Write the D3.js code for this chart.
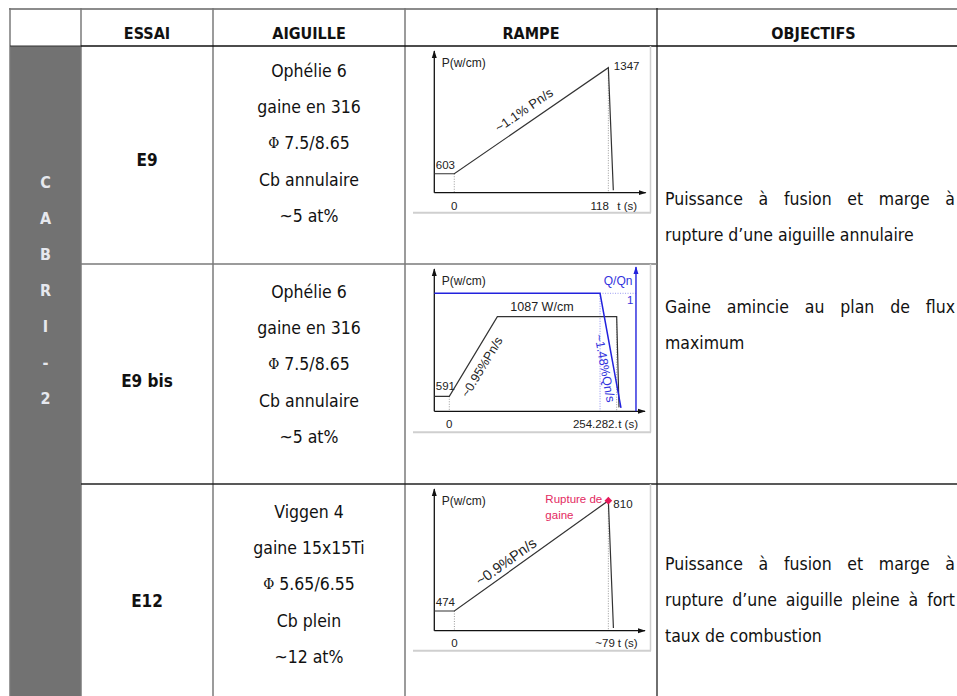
<!DOCTYPE html>
<html><head><meta charset="utf-8">
<script src="https://cdn.jsdelivr.net/npm/d3@7"></script>
<style>body{margin:0;background:#fff;overflow:hidden}svg{display:block}</style>
</head><body>
<script>
// ===== DATA =====
const enTetes = ["ESSAI", "AIGUILLE", "RAMPE", "OBJECTIFS"];
const campagne = ["C", "A", "B", "R", "I", "-", "2"];
const essais = ["E9", "E9 bis", "E12"];
const aiguilles = [
  ["Ophélie 6", "gaine en 316", "Φ 7.5/8.65", "Cb annulaire", "~5 at%"],
  ["Ophélie 6", "gaine en 316", "Φ 7.5/8.65", "Cb annulaire", "~5 at%"],
  ["Viggen 4", "gaine 15x15Ti", "Φ 5.65/6.55", "Cb plein", "~12 at%"]
];
const objectifsHaut = ["Puissance à fusion et marge à", "rupture d’une aiguille annulaire", "", "Gaine amincie au plan de flux", "maximum"];
const objectifsHautJustifie = [true, false, false, true, false];
const objectifsBas = ["Puissance à fusion et marge à", "rupture d’une aiguille pleine à fort", "taux de combustion"];
const objectifsBasJustifie = [true, true, false];

// Rampe E9
const rampe1Temps = [-15.3, 0, 118, 121.8];
const rampe1Puissance = [603, 603, 1347, 487];
const rampe1TDomaine = [-15.3, 146.6];
const rampe1PDomaine = [470, 1464];
const rampe1Pente = "~1.1% Pn/s";
const rampe1TickLabels = ["0", "118"];

// Rampe E9 bis
const rampe2Temps = [-22.8, 0, 73, 254.282, 257.8];
const rampe2Puissance = [591, 591, 1087, 1087, 522];
const rampe2DebitTemps = [-22.8, 229, 260.8];
const rampe2Debit = [1, 1, 0.03];
const rampe2TDomaine = [-22.8, 297.3];
const rampe2PDomaine = [497.5, 1384];
const rampe2QDomaine = [0, 1.223];
const rampe2TAxeQ = 283.6;
const rampe2Pente = "~0.95%Pn/s";
const rampe2PenteDebit = "~1.48%Qn/s";
const rampe2Plateau = "1087 W/cm";
const rampe2TickLabels = ["0", "254.282."];

// Rampe E12
const rampe3Temps = [-10.3, 0, 79, 81.6];
const rampe3Puissance = [474, 474, 810, 422];
const rampe3TDomaine = [-10.3, 97.8];
const rampe3PDomaine = [414, 845.6];
const rampe3Pente = "~0.9%Pn/s";
const rampe3TickLabels = ["0", "~79"];
const rampe3Rupture = ["Rupture de", "gaine"];

// ===== DRAW =====
const W = 957, H = 696;
const FONT = "'DejaVu Sans Condensed','DejaVu Sans',sans-serif";
const CFONT = "'Liberation Sans',Arial,sans-serif";
const svg = d3.select("body").append("svg").attr("width", W).attr("height", H)
  .style("font-family", FONT).style("font-stretch", "condensed");
const defs = svg.append("defs");
function marker(id, color) {
  defs.append("marker").attr("id", id).attr("viewBox", "0 0 10 10")
    .attr("refX", 9).attr("refY", 5).attr("markerWidth", 8).attr("markerHeight", 8)
    .attr("markerUnits", "userSpaceOnUse").attr("orient", "auto")
    .append("path").attr("d", "M0,1.8L10,5L0,8.2Z").attr("fill", color);
}
marker("arrK", "#111");
marker("arrB", "#2222dd");

const colX = [10, 81, 213, 405, 657, 1000];
const rowY = [9, 46, 264, 484, 720];

// gray campaign column
svg.append("rect").attr("x", colX[0]).attr("y", rowY[1]).attr("width", colX[1] - colX[0]).attr("height", H - rowY[1]).attr("fill", "#727272");

// grid lines
const gl = svg.append("g");
function ln(x1, y1, x2, y2, c, w) { gl.append("line").attr("x1", x1).attr("y1", y1).attr("x2", x2).attr("y2", y2).attr("stroke", c).attr("stroke-width", w); }
ln(colX[0] - 1, rowY[0], W, rowY[0], "#8c8c8c", 2);
[0, 1, 2, 3].forEach(i => ln(colX[i], rowY[0] - 1, colX[i], H, "#7a7a7a", 1.5));
ln(colX[4], rowY[0] - 1, colX[4], H, "#222", 1.3);
ln(colX[0], rowY[1], colX[1], rowY[1], "#333", 1.2);
ln(colX[1], rowY[1], W, rowY[1], "#111", 1.3);
ln(colX[1], rowY[2], colX[4], rowY[2], "#7a7a7a", 1.5);
ln(colX[1], rowY[3], W, rowY[3], "#222", 1.3);

// headers
enTetes.forEach((t, i) => {
  svg.append("text").attr("x", (colX[i + 1] + (i === 3 ? 970 : colX[i + 2])) / 2).attr("y", 33)
    .attr("text-anchor", "middle").attr("dominant-baseline", "central")
    .attr("font-weight", "bold").attr("font-size", 16).attr("fill", "#111").text(t);
});

// campaign letters
campagne.forEach((c, i) => {
  svg.append("text").attr("x", 45.5).attr("y", 182 + i * 36).attr("text-anchor", "middle")
    .attr("dominant-baseline", "central").attr("font-weight", "bold").attr("font-size", 16)
    .attr("fill", "#e6e8ee").text(c);
});

// essais + aiguilles
const rowCenter = [160, 381, 601];
essais.forEach((e, i) => {
  svg.append("text").attr("x", 147).attr("y", rowCenter[i]).attr("text-anchor", "middle")
    .attr("dominant-baseline", "central").attr("font-weight", "bold").attr("font-size", 17)
    .attr("fill", "#111").text(e);
  aiguilles[i].forEach((l, j) => {
    const t = svg.append("text").attr("x", 309).attr("y", rowCenter[i] - 89 + j * 36.2)
      .attr("text-anchor", "middle").attr("dominant-baseline", "central")
      .attr("font-size", 17.5).attr("fill", "#111");
    if (l.startsWith("Φ")) {
      t.append("tspan").attr("font-family", "'DejaVu Serif',serif").attr("font-size", 15).text("Φ");
      t.append("tspan").text(l.slice(1));
    } else t.text(l);
  });
});

// objectives (justified)
const meas = svg.append("text").attr("font-size", 17.5).attr("visibility", "hidden");
function wordW(w) { meas.text(w); return meas.node().getComputedTextLength(); }
function objLine(txt, y, just) {
  if (!txt) return;
  const x0 = 665, x1 = 955;
  if (!just) {
    svg.append("text").attr("x", x0).attr("y", y).attr("dominant-baseline", "central")
      .attr("font-size", 17.5).attr("fill", "#111").text(txt);
    return;
  }
  const words = txt.split(" ");
  const ws = words.map(wordW);
  const gap = (x1 - x0 - d3.sum(ws)) / (words.length - 1);
  let x = x0;
  const t = svg.append("text").attr("y", y).attr("dominant-baseline", "central").attr("font-size", 17.5).attr("fill", "#111");
  words.forEach((w, k) => { t.append("tspan").attr("x", x).text(w); x += ws[k] + gap; });
}
objectifsHaut.forEach((l, i) => objLine(l, 199 + i * 36, objectifsHautJustifie[i]));
objectifsBas.forEach((l, i) => objLine(l, 564 + i * 36, objectifsBasJustifie[i]));
meas.remove();

// ===== mini charts =====
function frame(g, top, bottom) {
  g.append("line").attr("x1", 413).attr("x2", 651).attr("y1", bottom).attr("y2", bottom).attr("stroke", "#cfcfcf").attr("stroke-width", 2);
  g.append("line").attr("x1", 650.5).attr("x2", 650.5).attr("y1", top).attr("y2", bottom).attr("stroke", "#cfcfcf").attr("stroke-width", 1.5);
}
function axes(g, x, y) {
  const [x0, x1] = x.range(), [yb, yt] = y.range();
  g.append("line").attr("x1", x0).attr("y1", yb).attr("x2", x1).attr("y2", yb).attr("stroke", "#111").attr("stroke-width", 1.3).attr("marker-end", "url(#arrK)");
  g.append("line").attr("x1", x0).attr("y1", yb).attr("x2", x0).attr("y2", yt).attr("stroke", "#111").attr("stroke-width", 1.3).attr("marker-end", "url(#arrK)");
}
function dotV(g, xp, y1, y2, c) {
  g.append("line").attr("x1", xp).attr("x2", xp).attr("y1", y1).attr("y2", y2).attr("stroke", c || "#9a9a9a").attr("stroke-width", 1).attr("stroke-dasharray", "1,1.5");
}
function lbl(g, txt, xp, yp, opts) {
  opts = opts || {};
  return g.append("text").attr("x", xp).attr("y", yp).attr("dominant-baseline", "central")
    .attr("text-anchor", opts.anchor || "start").attr("font-family", CFONT).style("font-stretch", "normal")
    .attr("font-size", opts.size || 11.5).attr("fill", opts.color || "#222").text(txt);
}
function slopeLbl(g, txt, pA, pB, frac, off, size, color) {
  const ang = Math.atan2(pB[1] - pA[1], pB[0] - pA[0]) * 180 / Math.PI;
  const px = pA[0] + (pB[0] - pA[0]) * frac, py = pA[1] + (pB[1] - pA[1]) * frac;
  g.append("text").attr("transform", `translate(${px},${py}) rotate(${ang})`).attr("y", off)
    .attr("text-anchor", "middle").attr("dominant-baseline", "central").attr("font-family", CFONT)
    .style("font-stretch", "normal").attr("font-size", size).attr("fill", color || "#222").text(txt);
}
const line = (x, y) => d3.line().x(d => x(d[0])).y(d => y(d[1]));

// --- Chart 1 ---
{
  const g = svg.append("g");
  frame(g, 46, 212.7);
  const x = d3.scaleLinear().domain(rampe1TDomaine).range([434.3, 645.7]);
  const y = d3.scaleLinear().domain(rampe1PDomaine).range([192.7, 51]);
  const yb = y.range()[0];
  const pts = rampe1Temps.map((t, i) => [t, rampe1Puissance[i]]);
  dotV(g, x(pts[1][0]), y(pts[1][1]), yb);
  dotV(g, x(pts[2][0]), y(pts[2][1]), yb);
  axes(g, x, y);
  g.append("path").attr("d", line(x, y)(pts)).attr("fill", "none").attr("stroke", "#333").attr("stroke-width", 1.2);
  lbl(g, "P(w/cm)", 441.7, 62.7, {size: 12});
  lbl(g, String(rampe1Puissance[1]), x.range()[0] + 1.5, y(rampe1Puissance[1]) - 9);
  lbl(g, String(rampe1Puissance[2]), x(rampe1Temps[2]) + 5.5, y(rampe1Puissance[2]) - 1.5);
  lbl(g, rampe1TickLabels[0], x(0), yb + 13.5, {anchor: "middle"});
  lbl(g, rampe1TickLabels[1], x(rampe1Temps[2]) + 0.5, yb + 13.5, {anchor: "end"});
  lbl(g, "t (s)", x(rampe1Temps[2]) + 9, yb + 13.5);
  slopeLbl(g, rampe1Pente, [x(pts[1][0]), y(pts[1][1])], [x(pts[2][0]), y(pts[2][1])], 0.5, -13, 13);
}

// --- Chart 2 ---
{
  const g = svg.append("g");
  frame(g, 264, 432.3);
  const x = d3.scaleLinear().domain(rampe2TDomaine).range([434.3, 645]);
  const y = d3.scaleLinear().domain(rampe2PDomaine).range([411.3, 269]);
  const q = d3.scaleLinear().domain(rampe2QDomaine).range([411.3, 267]);
  const yb = y.range()[0];
  const pts = rampe2Temps.map((t, i) => [t, rampe2Puissance[i]]);
  const qpts = rampe2DebitTemps.map((t, i) => [t, rampe2Debit[i]]);
  const xq = x(rampe2TAxeQ);
  dotV(g, x(pts[1][0]), y(pts[1][1]), yb);
  dotV(g, x(pts[3][0]), y(pts[3][1]), yb);
  dotV(g, x(qpts[1][0]), q(qpts[1][1]), yb, "#8a8af0");
  g.append("line").attr("x1", x(qpts[1][0])).attr("x2", xq).attr("y1", q(1)).attr("y2", q(1)).attr("stroke", "#9a9af0").attr("stroke-dasharray", "1,1.5");
  axes(g, x, y);
  g.append("line").attr("x1", xq).attr("x2", xq).attr("y1", q.range()[0]).attr("y2", q.range()[1]).attr("stroke", "#2222dd").attr("stroke-width", 1.4).attr("marker-end", "url(#arrB)");
  g.append("path").attr("d", line(x, y)(pts)).attr("fill", "none").attr("stroke", "#333").attr("stroke-width", 1.2);
  g.append("path").attr("d", line(x, q)(qpts)).attr("fill", "none").attr("stroke", "#2222dd").attr("stroke-width", 1.5);
  lbl(g, "P(w/cm)", 441.7, 280.7, {size: 12});
  lbl(g, "Q/Qn", xq - 3.5, 280.7, {size: 12, anchor: "end", color: "#3333dd"});
  lbl(g, String(rampe2Debit[0]), xq - 2.5, q(1) + 7, {size: 11.5, anchor: "end", color: "#3333dd"});
  lbl(g, String(rampe2Puissance[1]), x.range()[0] + 1.5, y(rampe2Puissance[1]) - 10);
  lbl(g, rampe2Plateau, x(rampe2Temps[2]) + 13, y(rampe2Puissance[2]) - 9.5, {size: 12.5});
  lbl(g, rampe2TickLabels[0], x(0), yb + 13, {anchor: "middle"});
  lbl(g, rampe2TickLabels[1], x(rampe2Temps[3]) + 1, yb + 13, {anchor: "end"});
  lbl(g, "t (s)", x(rampe2Temps[3]) + 1.5, yb + 13);
  slopeLbl(g, rampe2Pente, [x(pts[1][0]), y(pts[1][1])], [x(pts[2][0]), y(pts[2][1])], 0.45, 13, 12.5);
  slopeLbl(g, rampe2PenteDebit, [x(qpts[1][0]), q(qpts[1][1])], [x(qpts[2][0]), q(qpts[2][1])], 0.64, 9, 12.5, "#3333dd");
}

// --- Chart 3 ---
{
  const g = svg.append("g");
  frame(g, 484, 650.7);
  const x = d3.scaleLinear().domain(rampe3TDomaine).range([434.3, 645]);
  const y = d3.scaleLinear().domain(rampe3PDomaine).range([630.7, 489]);
  const yb = y.range()[0];
  const pts = rampe3Temps.map((t, i) => [t, rampe3Puissance[i]]);
  dotV(g, x(pts[1][0]), y(pts[1][1]), yb);
  dotV(g, x(pts[2][0]), y(pts[2][1]), yb);
  axes(g, x, y);
  g.append("path").attr("d", line(x, y)(pts)).attr("fill", "none").attr("stroke", "#333").attr("stroke-width", 1.2);
  g.append("path").attr("d", d3.symbol(d3.symbolSquare, 30)()).attr("transform", `translate(${x(pts[2][0])},${y(pts[2][1])}) rotate(45)`).attr("fill", "#e6195a");
  lbl(g, "P(w/cm)", 441.7, 500.7, {size: 12});
  lbl(g, rampe3Rupture[0], x(rampe3Temps[2]) - 63, y(rampe3Puissance[2]) - 1.5, {color: "#e32a62"});
  lbl(g, rampe3Rupture[1], x(rampe3Temps[2]) - 63, y(rampe3Puissance[2]) + 14, {color: "#e32a62"});
  lbl(g, String(rampe3Puissance[2]), x(rampe3Temps[2]) + 5, y(rampe3Puissance[2]) + 3.3);
  lbl(g, String(rampe3Puissance[1]), x.range()[0] + 1.5, y(rampe3Puissance[1]) - 8.7);
  lbl(g, rampe3TickLabels[0], x(0), yb + 12.6, {anchor: "middle"});
  lbl(g, rampe3TickLabels[1], x(rampe3Temps[2]) + 6.5, yb + 12.6, {anchor: "end"});
  lbl(g, "t (s)", x(rampe3Temps[2]) + 9.5, yb + 12.6);
  slopeLbl(g, rampe3Pente, [x(pts[1][0]), y(pts[1][1])], [x(pts[2][0]), y(pts[2][1])], 0.373, -10, 14.5);
}
</script>
</body></html>
